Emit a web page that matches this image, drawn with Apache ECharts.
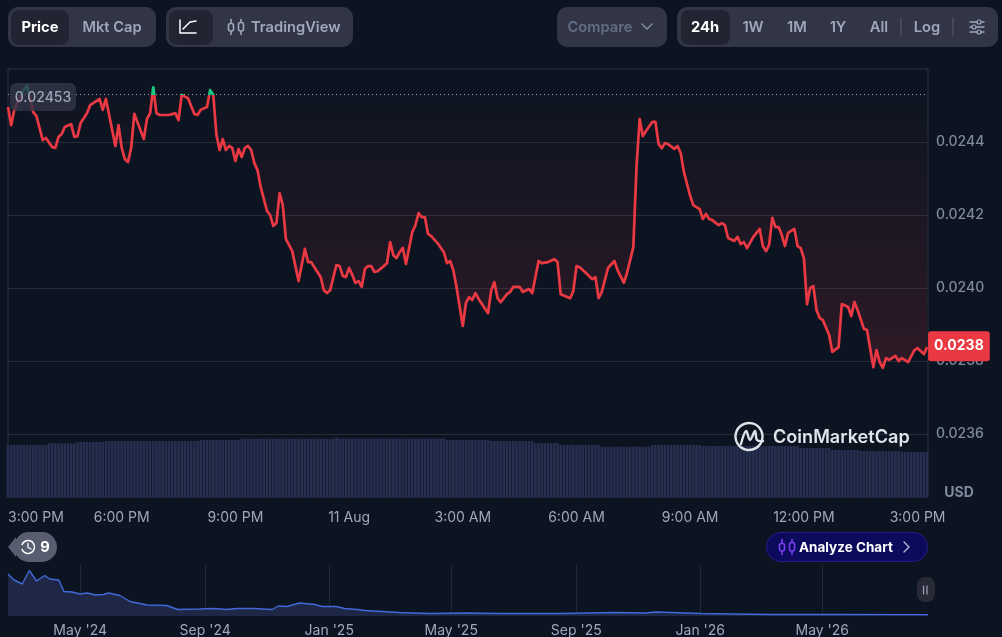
<!DOCTYPE html>
<html>
<head>
<meta charset="utf-8">
<title>CoinMarketCap price chart</title>
<style>html,body{margin:0;padding:0;background:#0d1421}#c{width:1002px;height:637px}</style>
<script src="https://cdn.jsdelivr.net/npm/echarts@6/dist/echarts.min.js"></script>
</head>
<body>
<div id="c"></div>
<script>
// 5-minute slot numbers since 3:00 PM, and the price read at each slot
const slots = [0,1,2,4,6,8,9,11,12,14,15,16,17,18,20,21,22,23,25,26,29,30,31,34,35,36,37,38,39,40,43,44,45,46,47,48,51,53,54,55,57,59,60,61,63,64,65,66,67,68,69,70,71,72,73,74,75,76,77,78,79,80,82,83,84,85,86,87,88,90,92,94,95,96,97,99,100,101,102,104,105,106,107,108,109,110,111,112,113,114,115,116,117,119,120,121,122,123,124,125,126,128,129,130,131,132,133,134,136,138,139,140,141,142,144,145,146,147,148,149,152,153,154,155,156,158,159,160,162,163,165,166,168,169,171,173,174,175,178,179,180,181,183,185,186,187,188,190,192,193,195,196,198,199,200,201,202,204,205,206,207,208,209,211,212,213,214,216,217,219,220,221,222,223,225,226,227,228,230,231,232,233,234,236,238,239,240,241,242,243,244,245,246,247,249,250,251,252,253,254,255,256,257,258,260,261,263,264,266,267,268,269,271,272,274,275,276,277,278,279,281,282,283,285,287,288,290,291];
const prices = [0.024496,0.024446,0.024488,0.024529,0.024556,0.024482,0.024471,0.024405,0.024411,0.024386,0.024384,0.024414,0.024422,0.024441,0.024449,0.024414,0.024416,0.024452,0.024479,0.024501,0.024518,0.024488,0.024518,0.024389,0.024446,0.024384,0.024353,0.024345,0.024384,0.024477,0.024408,0.024463,0.024479,0.024550,0.024479,0.024474,0.024474,0.024479,0.024460,0.024529,0.024520,0.024477,0.024474,0.024488,0.024496,0.024542,0.024529,0.024419,0.024378,0.024408,0.024378,0.024389,0.024384,0.024348,0.024381,0.024359,0.024384,0.024389,0.024378,0.024342,0.024323,0.024277,0.024211,0.024200,0.024170,0.024178,0.024260,0.024227,0.024134,0.024101,0.024019,0.024107,0.024071,0.024071,0.024057,0.024030,0.023994,0.023986,0.023994,0.024063,0.024060,0.024033,0.024030,0.024055,0.024036,0.024014,0.024019,0.024003,0.024052,0.024060,0.024060,0.024044,0.024046,0.024060,0.024068,0.024126,0.024090,0.024082,0.024098,0.024110,0.024066,0.024153,0.024172,0.024205,0.024194,0.024194,0.024148,0.024142,0.024123,0.024098,0.024068,0.024074,0.024049,0.024003,0.023896,0.023959,0.023975,0.023967,0.023986,0.023970,0.023931,0.023994,0.024016,0.023972,0.023961,0.023983,0.023989,0.024003,0.024003,0.023989,0.023997,0.023986,0.024074,0.024068,0.024071,0.024079,0.024071,0.023983,0.023972,0.023992,0.024060,0.024057,0.024041,0.024024,0.024030,0.023972,0.023989,0.024055,0.024074,0.024049,0.024014,0.024041,0.024112,0.024331,0.024463,0.024416,0.024430,0.024455,0.024455,0.024394,0.024383,0.024397,0.024394,0.024381,0.024389,0.024370,0.024318,0.024252,0.024227,0.024216,0.024189,0.024203,0.024189,0.024186,0.024172,0.024178,0.024172,0.024137,0.024129,0.024140,0.024120,0.024126,0.024109,0.024140,0.024162,0.024115,0.024101,0.024118,0.024192,0.024167,0.024167,0.024145,0.024115,0.024151,0.024162,0.024115,0.024109,0.024082,0.023956,0.024000,0.024005,0.023940,0.023918,0.023912,0.023871,0.023825,0.023838,0.023956,0.023948,0.023923,0.023962,0.023940,0.023888,0.023885,0.023783,0.023830,0.023797,0.023781,0.023808,0.023803,0.023814,0.023800,0.023808,0.023797,0.023830,0.023835,0.023819,0.023838];
const baselinePrice = 0.02453;
const lastPrice = "0.0238";

// 24h volume (USD millions), one value per 5-minute slot 0..291
const volumes = [
52.5,52.5,52.5,52.5,52.5,52.5,52.5,52.5,52.5,52.5,52.5,52.5,52.5,
54.2,54.2,54.2,54.2,54.2,54.2,54.2,54.2,54.2,
55.5,55.5,55.5,55.5,55.5,55.5,55.5,55.5,55.5,
56.5,56.5,56.5,56.5,56.5,56.5,56.5,56.5,56.5,56.5,56.5,56.5,56.5,56.5,56.5,56.5,56.5,56.5,56.5,56.5,56.5,56.5,56.5,56.5,56.5,56.5,56.5,56.5,56.5,56.5,
57.5,57.5,57.5,57.5,57.5,57.5,57.5,57.5,57.5,57.5,57.5,57.5,57.5,
58.8,58.8,58.8,58.8,58.8,58.8,58.8,58.8,58.8,58.8,58.8,58.8,58.8,58.8,58.8,58.8,58.8,58.8,58.8,58.8,58.8,58.8,58.8,58.8,58.8,58.8,58.8,58.8,58.8,58.8,
60,
59,59,59,59,59,59,59,59,59,59,59,59,59,59,59,59,59,59,59,59,59,59,59,59,59,59,59,59,59,59,59,59,59,59,
57.5,57.5,57.5,57.5,57.5,57.5,57.5,57.5,57.5,57.5,57.5,57.5,57.5,57.5,
56.5,56.5,56.5,56.5,56.5,56.5,56.5,56.5,56.5,56.5,56.5,56.5,56.5,56.5,
54.5,54.5,54.5,54.5,54.5,54.5,54.5,54.5,
52.5,52.5,52.5,52.5,52.5,52.5,52.5,52.5,52.5,52.5,52.5,52.5,52.5,
50.8,50.8,50.8,50.8,50.8,50.8,50.8,50.8,50.8,50.8,50.8,50.8,50.8,50.8,50.8,50.8,
52.5,52.5,52.5,52.5,52.5,52.5,52.5,52.5,52.5,52.5,52.5,52.5,52.5,52.5,52.5,52.5,
51.5,51.5,51.5,51.5,51.5,51.5,51.5,51.5,51.5,51.5,51.5,51.5,51.5,51.5,51.5,51.5,51.5,51.5,51.5,51.5,51.5,51.5,51.5,51.5,51.5,51.5,51.5,51.5,51.5,51.5,51.5,
49.5,49.5,49.5,49.5,49.5,49.5,49.5,49.5,49.5,49.5,
47.5,47.5,47.5,47.5,47.5,47.5,47.5,47.5,47.5,
46.5,46.5,46.5,46.5,46.5,46.5,46.5,46.5,46.5,46.5,46.5,46.5,46.5,
45.5,45.5,45.5,45.5,45.5,45.5,45.5,45.5,45.5
];

// Axis ticks
const priceTicks = [0.0236,0.0238,0.0240,0.0242,0.0244];
const timeTickSlots = [0,36,72,108,144,180,216,252,288];
const timeTickLabels = ["3:00 PM","6:00 PM","9:00 PM","11 Aug","3:00 AM","6:00 AM","9:00 AM","12:00 PM","3:00 PM"];

// Whole-history overview
const historyDates = ["2024-02-20","2024-02-26","2024-03-05","2024-03-12","2024-03-19","2024-03-27","2024-04-01","2024-04-10","2024-04-15","2024-04-23","2024-05-01","2024-05-08","2024-05-16","2024-05-24","2024-05-29","2024-06-09","2024-06-19","2024-07-06","2024-07-25","2024-08-05","2024-08-27","2024-09-09","2024-09-22","2024-10-02","2024-10-18","2024-11-06","2024-11-12","2024-11-20","2024-12-03","2024-12-18","2024-12-25","2025-01-08","2025-01-16","2025-01-29","2025-02-05","2025-03-11","2025-04-10","2025-05-16","2025-06-18","2025-08-16","2025-10-08","2025-11-07","2025-11-19","2026-01-02","2026-03-09","2026-05-13","2026-08-13"];
const historyPrices = [0.84,0.72,0.64,0.91,0.70,0.81,0.74,0.72,0.49,0.48,0.44,0.46,0.42,0.43,0.46,0.41,0.29,0.22,0.21,0.13,0.14,0.15,0.13,0.15,0.15,0.13,0.20,0.19,0.26,0.23,0.19,0.19,0.15,0.13,0.11,0.07,0.05,0.06,0.05,0.05,0.07,0.06,0.08,0.05,0.03,0.03,0.0238];
const historyTickDates = ["2024-05-01","2024-09-01","2025-01-01","2025-05-01","2025-09-01","2026-01-01","2026-05-01"];
const historyTickLabels = ["May '24","Sep '24","Jan '25","May '25","Sep '25","Jan '26","May '26"];

const BG = "#0d1421", PANEL = "#323546", SEL = "#222531", MUTED = "#a1a7bb", RED = "#ea3943", GREEN = "#16c784";
const FONT = "Inter";
const UI = 14.7;

function txt(text, x, y, fill, weight, size, align) {
  return {type:"text", z:100, silent:true, style:{text, x, y, fill, font:`${weight} ${size}px ${FONT}`, textAlign:align||"center", textVerticalAlign:"middle"}};
}
function box(x, y, w, h, r, fill, stroke) {
  return {type:"rect", z:99, silent:true, shape:{x,y,width:w,height:h,r}, style:{fill, stroke:stroke||null, lineWidth:stroke?1:0}};
}
function pl(points, stroke, w, smooth) {
  return {type:"polyline", z:101, silent:true, shape:{points, smooth:smooth||0}, style:{stroke, lineWidth:w||1.5, fill:null, lineCap:"round", lineJoin:"round"}};
}
function candleIcon(cx, cy, col) {
  return [
    pl([[cx-5,cy-7.5],[cx-5,cy+7.5]],col,1.6), box(cx-7.5,cy-3.5,5,7.5,2,BGfor(col),col),
    pl([[cx+5,cy-7.5],[cx+5,cy+7.5]],col,1.6), box(cx+2.5,cy-4.5,5,8.5,2,BGfor(col),col)
  ].map(e=>{e.z=102;e.style.lineWidth=1.6;return e;});
}
function BGfor(col){ return col===MUTED ? PANEL : "#0b0a5c"; }

const furniture = [
  // Price / Mkt Cap
  box(8,7,148,40,10,PANEL), box(11,10,58,35,8,SEL),
  txt("Price",40,27.5,"#ffffff",700,UI), txt("Mkt Cap",112,27.5,MUTED,600,UI),
  // chart type
  box(166,7,187,40,10,PANEL), box(169,10,44,35,8,SEL),
  pl([[180,20],[180,33],[196,33]],"#ffffff",1.5), pl([[183,29],[187,25],[190,22],[196,21]],"#ffffff",1.5),
  ...candleIcon(236,27,MUTED), txt("TradingView",251,27.5,MUTED,600,UI,"left"),
  // Compare
  box(557,7,110,40,10,PANEL), txt("Compare",600,27.5,"#616e85",600,UI), pl([[642,24],[647,29],[652,24]],"#8a92a6",1.4),
  // ranges
  box(677,7,321,40,10,PANEL), box(681,10,49,35,8,SEL),
  txt("24h",705,27.5,"#ffffff",700,UI), txt("1W",753,27.5,MUTED,600,UI), txt("1M",797,27.5,MUTED,600,UI),
  txt("1Y",838,27.5,MUTED,600,UI), txt("All",879,27.5,MUTED,600,UI),
  pl([[901,18],[901,36]],"#585d70",1), txt("Log",927,27.5,MUTED,600,UI), pl([[953,18],[953,36]],"#585d70",1),
  pl([[970,22],[984,22]],MUTED,1.3), pl([[970,27],[984,27]],MUTED,1.3), pl([[970,32],[984,32]],MUTED,1.3),
  {type:"circle",z:102,silent:true,shape:{cx:979,cy:22,r:2},style:{fill:PANEL,stroke:MUTED,lineWidth:1.2}},
  {type:"circle",z:102,silent:true,shape:{cx:974,cy:27,r:2},style:{fill:PANEL,stroke:MUTED,lineWidth:1.2}},
  {type:"circle",z:102,silent:true,shape:{cx:979,cy:32,r:2},style:{fill:PANEL,stroke:MUTED,lineWidth:1.2}},
  // opening price tag
  box(10,83,66,28,6,"rgba(50,54,70,0.82)"), txt("0.02453",43,97.5,MUTED,500,14),
  // USD
  txt("USD",959,493,"#808a9d",700,14),
  // watermark
  {type:"arc",z:101,silent:true,shape:{cx:749,cy:436.5,r:13.5,startAngle:-Math.PI*0.42,endAngle:Math.PI*1.72},style:{stroke:"#dfe3ea",lineWidth:2.4,fill:null,lineCap:"round"}},
  pl([[741,444],[746,431],[750,440],[755,431],[757,440],[763,441]],"#dfe3ea",2.4,0.35),
  txt("CoinMarketCap",773,438,"#dfe3ea",600,18.1,"left"),
  // history badge
  {type:"polygon",z:99,silent:true,shape:{points:[[8,547],[16,537],[16,557]]},style:{fill:"#585d70"}},
  box(14,532,43,30,15,"#585d70"),
  {type:"arc",z:101,silent:true,shape:{cx:28,cy:547,r:6.5,startAngle:-Math.PI*0.9,endAngle:Math.PI*0.9},style:{stroke:"#ffffff",lineWidth:1.5,fill:null}},
  pl([[28,543.5],[28,547.5],[31,549]],"#ffffff",1.3),
  txt("9",45,547.5,"#ffffff",700,14.7),
  // analyze button
  box(766.5,532.5,161,29,14.5,"#0b0a5c","#2a1a8c"),
  ...candleIcon(787,547,"#7b3ff2"),
  txt("Analyze Chart",799,547.5,"#ffffff",700,13.5,"left"), pl([[904,542],[909,547],[904,552]],"#b9bfd0",1.3),
  // overview handle
  box(917,577,18,25,8,"rgba(42,46,58,0.92)"),
  pl([[923.5,586],[923.5,594]],"#a1a7bb",1.2), pl([[927,586],[927,594]],"#a1a7bb",1.2)
];

const chart = echarts.init(document.getElementById("c"), null, {renderer:"canvas", width:1002, height:637});
const dayOf = d => +echarts.time.parse(d);
const priceData = slots.map((s,i)=>[s,prices[i]]);
const volumeData = volumes.map((v,i)=>[i,v]);
const historyData = historyDates.map((d,i)=>[dayOf(d),historyPrices[i]]);
const historyTicks = historyTickDates.map(dayOf);
const slotMax = 291.3;
const openingLine = [[0,baselinePrice],[slotMax,baselinePrice]];

// The line turns green above the opening price: a hard stop in its own bounding box,
// which the renderer pads by 2.5 px (about this much price) on each side.
const hi = Math.max(...prices), lo = Math.min(...prices), pad = 0.00000685;
const split = (hi + pad - baselinePrice) / (hi - lo + 2*pad);

chart.setOption({
  backgroundColor: BG,
  animation: false,
  textStyle: {fontFamily: FONT},
  grid: [
    {left:8, right:74, top:69, bottom:140, show:true, borderColor:"#2b3140", borderWidth:1, backgroundColor:"transparent", outerBoundsMode:"none"},
    {left:8, right:74, top:437.5, bottom:139.5, outerBoundsMode:"none"},
    {left:8, right:74, top:565, bottom:21, outerBoundsMode:"none"}
  ],
  xAxis: [
    {type:"value", gridIndex:0, min:0, max:slotMax, position:"bottom",
      axisLine:{show:false}, axisTick:{show:false}, splitLine:{show:false},
      axisLabel:{customValues:timeTickSlots, alignMinLabel:"left", margin:14, color:"#a1a7bb", fontSize:14, fontFamily:FONT,
        formatter:v=>timeTickLabels[timeTickSlots.indexOf(v)]}},
    {type:"value", gridIndex:1, min:0, max:slotMax, show:false},
    {type:"value", gridIndex:2, min:dayOf("2024-02-20"), max:dayOf("2026-08-13"),
      axisLine:{show:false},
      axisTick:{show:false, customValues:historyTicks},
      splitLine:{show:true, lineStyle:{color:"#222733", width:1}},
      axisLabel:{customValues:historyTicks, margin:8, color:"#a1a7bb", fontSize:14, fontFamily:FONT, hideOverlap:false,
        formatter:v=>historyTickLabels[historyTicks.indexOf(v)]}}
  ],
  yAxis: [
    {type:"value", gridIndex:0, position:"right", min:0.0234274, max:0.0246,
      axisLine:{show:false},
      axisTick:{show:false, customValues:priceTicks},
      splitLine:{show:true, lineStyle:{color:"#262c3a", width:1}},
      axisLabel:{customValues:priceTicks, margin:8, color:"#808a9d", fontSize:14, fontWeight:500, fontFamily:FONT, padding:[0,0,2,0], formatter:v=>v.toFixed(4)}},
    {type:"value", gridIndex:1, min:0, max:60, show:false},
    {type:"value", gridIndex:2, min:0, max:1.02, show:false}
  ],
  series: [
    {type:"line", xAxisIndex:0, yAxisIndex:0, data:openingLine, showSymbol:false, symbol:"none", z:4, silent:true,
      lineStyle:{color:"#9aa2b4", type:[1,3], width:1}},
    {type:"line", xAxisIndex:0, yAxisIndex:0, data:priceData, showSymbol:false, symbol:"none", z:5,
      lineStyle:{width:2.7, join:"round", color:{type:"linear",x:0,y:0,x2:0,y2:1,colorStops:[
        {offset:0,color:GREEN},{offset:split,color:GREEN},{offset:split,color:RED},{offset:1,color:RED}]}},
      areaStyle:{origin:baselinePrice, color:{type:"linear",x:0,y:0,x2:0,y2:1,colorStops:[
        {offset:0,color:"rgba(234,57,67,0)"},{offset:1,color:"rgba(234,57,67,0.21)"}]}},
      endLabel:{show:true, formatter:()=>lastPrice, color:"#ffffff", fontFamily:FONT, fontWeight:700, fontSize:14,
        backgroundColor:RED, borderRadius:3, padding:[8,6,8,6], distance:0, offset:[1,-1], align:"left"}
    },
    {type:"bar", xAxisIndex:1, yAxisIndex:1, data:volumeData, barWidth:2.6, z:1,
      itemStyle:{color:"#262f50"}},
    {type:"line", xAxisIndex:2, yAxisIndex:2, data:historyData, showSymbol:false, symbol:"none", z:3,
      lineStyle:{width:1.4, color:"#4169d8"},
      areaStyle:{color:"#1e2846", opacity:1}}
  ],
  graphic: {elements: furniture}
});
</script>
</body>
</html>
